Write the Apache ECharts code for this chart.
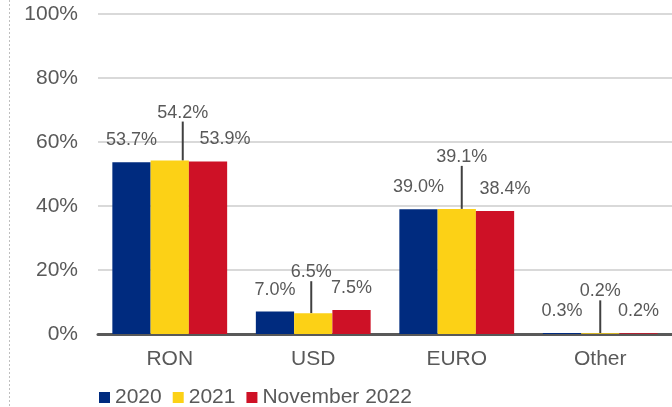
<!DOCTYPE html>
<html>
<head>
<meta charset="utf-8">
<script src="https://cdn.jsdelivr.net/npm/echarts@6/dist/echarts.min.js"></script>
<style>
  html, body { margin: 0; padding: 0; background: #fff; }
  #main { width: 672px; height: 407px; }
</style>
</head>
<body>
<div id="main"></div>
<script>
// currency shares, %
const categories = ['RON', 'USD', 'EURO', 'Other'];
const seriesNames = ['2020', '2021', 'November 2022'];
const values2020 = [53.7, 7.0, 39.0, 0.3];
const values2021 = [54.2, 6.5, 39.1, 0.2];
const valuesNov2022 = [53.9, 7.5, 38.4, 0.2];
const yTicks = [0, 20, 40, 60, 80, 100];

const colors = ['#002B7F', '#FCD116', '#CE1126'];
const textColor = '#595959';
const fontFamily = 'Liberation Sans, Arial, sans-serif';

// shift of the 2021 labels (they sit above with a leader line)
const raised = [[13, -26], [-2, -19], [5, -30], [0, -20]];
// small nudge for Nov 2022 labels
const novShift = [17, 0, 10, 0];

const chart = echarts.init(document.getElementById('main'));

function barSeries(i, data) {
    return {
        name: seriesNames[i],
        type: 'bar',
        data: data,
        barGap: '0%',
        barCategoryGap: '20%',
        itemStyle: { color: colors[i] },
        label: {
            show: true,
            position: 'top',
            distance: 13,
            fontSize: 18,
            color: textColor,
            fontFamily: fontFamily,
            formatter: p => p.value.toFixed(1) + '%'
        }
    };
}

const s2020 = barSeries(0, values2020);
const s2021 = barSeries(1, values2021);
s2021.labelLayout = p => ({ dx: raised[p.dataIndex][0], dy: raised[p.dataIndex][1] });
s2021.labelLine = { show: true, lineStyle: { color: '#404040', width: 2 } };
const sNov = barSeries(2, valuesNov2022);
sNov.labelLayout = p => ({ dx: novShift[p.dataIndex] });

const option = {
    animation: false,
    textStyle: { fontFamily: fontFamily },
    grid: { left: 98, right: -10, top: 14, bottom: 73 },
    legend: {
        left: 99,
        top: 387,
        padding: 0,
        icon: 'rect',
        itemWidth: 11,
        itemHeight: 11,
        itemGap: 11,
        textStyle: { fontSize: 21, color: textColor },
        data: seriesNames
    },
    xAxis: {
        type: 'category',
        data: categories,
        axisLine: { lineStyle: { color: '#595959', width: 3 } },
        axisTick: { show: false },
        axisLabel: { fontSize: 21, color: textColor, margin: 15 }
    },
    yAxis: {
        type: 'value',
        min: yTicks[0],
        max: yTicks[yTicks.length - 1],
        interval: 20,
        axisLine: { show: false },
        axisTick: { show: false },
        axisLabel: { fontSize: 21, color: textColor, margin: 20, formatter: v => v + '%' },
        splitLine: { lineStyle: { color: '#d9d9d9', width: 2 } }
    },
    graphic: [{
        type: 'line',
        shape: { x1: 9.5, y1: 0, x2: 9.5, y2: 407 },
        style: { stroke: '#bfbfbf', lineWidth: 1, lineDash: [2, 2] }
    }],
    series: [s2020, s2021, sNov]
};

chart.setOption(option);
</script>
</body>
</html>
